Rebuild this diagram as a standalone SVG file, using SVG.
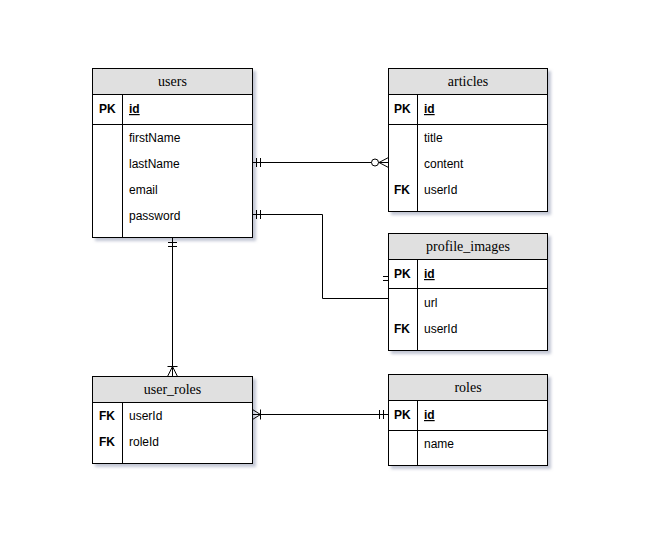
<svg xmlns="http://www.w3.org/2000/svg" width="652" height="544" viewBox="0 0 652 544">
<defs>
<filter id="sh" x="-10%" y="-10%" width="130%" height="130%">
<feDropShadow dx="3" dy="3" stdDeviation="1.5" flood-color="#9aa0b8" flood-opacity="0.6"/>
</filter>
</defs>
<style>
.box{fill:#fff;stroke:#000;stroke-width:1}
.hdr{fill:#e0e0e0;stroke:#000;stroke-width:1}
.ln{stroke:#000;stroke-width:1;fill:none}
.t{font-family:"Liberation Serif",serif;font-size:14px;text-anchor:middle;fill:#000}
.f{font-family:"Liberation Sans",Arial,sans-serif;font-size:12px;fill:#000}
.k{font-family:"Liberation Sans",Arial,sans-serif;font-size:12px;font-weight:bold;fill:#000}
.u{text-decoration:underline}
</style>
<rect width="652" height="544" fill="#fff"/>

<g id="users">
<rect class="box" x="92.5" y="68.5" width="160" height="169" filter="url(#sh)"/>
<rect class="hdr" x="92.5" y="68.5" width="160" height="26"/>
<text class="t" x="172.5" y="86">users</text>
<line class="ln" x1="92.5" y1="124.5" x2="252.5" y2="124.5"/>
<line class="ln" x1="122.5" y1="94.5" x2="122.5" y2="237.5"/>
<text class="k" x="99" y="113">PK</text>
<text class="k u" x="129" y="113">id</text>
<text class="f" x="129" y="142">firstName</text>
<text class="f" x="129" y="168">lastName</text>
<text class="f" x="129" y="194">email</text>
<text class="f" x="129" y="220">password</text>
</g>

<g id="articles">
<rect class="box" x="388.5" y="68.5" width="159" height="143" filter="url(#sh)"/>
<rect class="hdr" x="388.5" y="68.5" width="159" height="26"/>
<text class="t" x="468" y="86">articles</text>
<line class="ln" x1="388.5" y1="124.5" x2="547.5" y2="124.5"/>
<line class="ln" x1="417.5" y1="94.5" x2="417.5" y2="211.5"/>
<text class="k" x="394" y="113">PK</text>
<text class="k u" x="424" y="113">id</text>
<text class="f" x="424" y="142">title</text>
<text class="f" x="424" y="168">content</text>
<text class="k" x="394" y="194">FK</text>
<text class="f" x="424" y="194">userId</text>
</g>

<g id="profile_images">
<rect class="box" x="388.5" y="233.5" width="159" height="117" filter="url(#sh)"/>
<rect class="hdr" x="388.5" y="233.5" width="159" height="26"/>
<text class="t" x="468" y="251">profile_images</text>
<line class="ln" x1="388.5" y1="288.5" x2="547.5" y2="288.5"/>
<line class="ln" x1="417.5" y1="259.5" x2="417.5" y2="350.5"/>
<text class="k" x="394" y="278">PK</text>
<text class="k u" x="424" y="278">id</text>
<text class="f" x="424" y="307">url</text>
<text class="k" x="394" y="333">FK</text>
<text class="f" x="424" y="333">userId</text>
</g>

<g id="user_roles">
<rect class="box" x="92.5" y="376.5" width="160" height="87" filter="url(#sh)"/>
<rect class="hdr" x="92.5" y="376.5" width="160" height="26"/>
<text class="t" x="172.5" y="394">user_roles</text>
<line class="ln" x1="122.5" y1="402.5" x2="122.5" y2="463.5"/>
<text class="k" x="99" y="420">FK</text>
<text class="f" x="129" y="420">userId</text>
<text class="k" x="99" y="446">FK</text>
<text class="f" x="129" y="446">roleId</text>
</g>

<g id="roles">
<rect class="box" x="388.5" y="374.5" width="159" height="91" filter="url(#sh)"/>
<rect class="hdr" x="388.5" y="374.5" width="159" height="26"/>
<text class="t" x="468" y="392">roles</text>
<line class="ln" x1="388.5" y1="430.5" x2="547.5" y2="430.5"/>
<line class="ln" x1="417.5" y1="400.5" x2="417.5" y2="465.5"/>
<text class="k" x="394" y="419">PK</text>
<text class="k u" x="424" y="419">id</text>
<text class="f" x="424" y="448">name</text>
</g>

<g id="connectors">
<!-- users.lastName -> articles -->
<line class="ln" x1="252.5" y1="162.5" x2="371.5" y2="162.5"/>
<line class="ln" x1="256.5" y1="158" x2="256.5" y2="167"/>
<line class="ln" x1="260.5" y1="158" x2="260.5" y2="167"/>
<circle class="ln" cx="375" cy="162.5" r="3.5"/>
<line class="ln" x1="378.5" y1="162.5" x2="388.5" y2="162.5"/>
<line class="ln" x1="379" y1="162.5" x2="388.5" y2="157.5"/>
<line class="ln" x1="379" y1="162.5" x2="388.5" y2="167.5"/>
<!-- users.password -> profile_images -->
<polyline class="ln" points="252.5,214.5 322.5,214.5 322.5,298.5 388.5,298.5"/>
<line class="ln" x1="256.5" y1="210" x2="256.5" y2="219"/>
<line class="ln" x1="260.5" y1="210" x2="260.5" y2="219"/>
<line class="ln" x1="383" y1="276.5" x2="388.5" y2="276.5"/>
<line class="ln" x1="383" y1="280.5" x2="388.5" y2="280.5"/>
<!-- users -> user_roles -->
<line class="ln" x1="172.5" y1="237.5" x2="172.5" y2="376.5"/>
<line class="ln" x1="168" y1="242.5" x2="177" y2="242.5"/>
<line class="ln" x1="168" y1="246.5" x2="177" y2="246.5"/>
<line class="ln" x1="167.5" y1="366.5" x2="177.5" y2="366.5"/>
<line class="ln" x1="172.5" y1="366.5" x2="167.5" y2="376.5"/>
<line class="ln" x1="172.5" y1="366.5" x2="177.5" y2="376.5"/>
<!-- user_roles -> roles -->
<line class="ln" x1="252.5" y1="414.5" x2="388.5" y2="414.5"/>
<line class="ln" x1="252.5" y1="409.5" x2="260.5" y2="414.5"/>
<line class="ln" x1="252.5" y1="419.5" x2="260.5" y2="414.5"/>
<line class="ln" x1="260.5" y1="409.5" x2="260.5" y2="419.5"/>
<line class="ln" x1="379.5" y1="410" x2="379.5" y2="419"/>
<line class="ln" x1="383.5" y1="410" x2="383.5" y2="419"/>
</g>
</svg>
